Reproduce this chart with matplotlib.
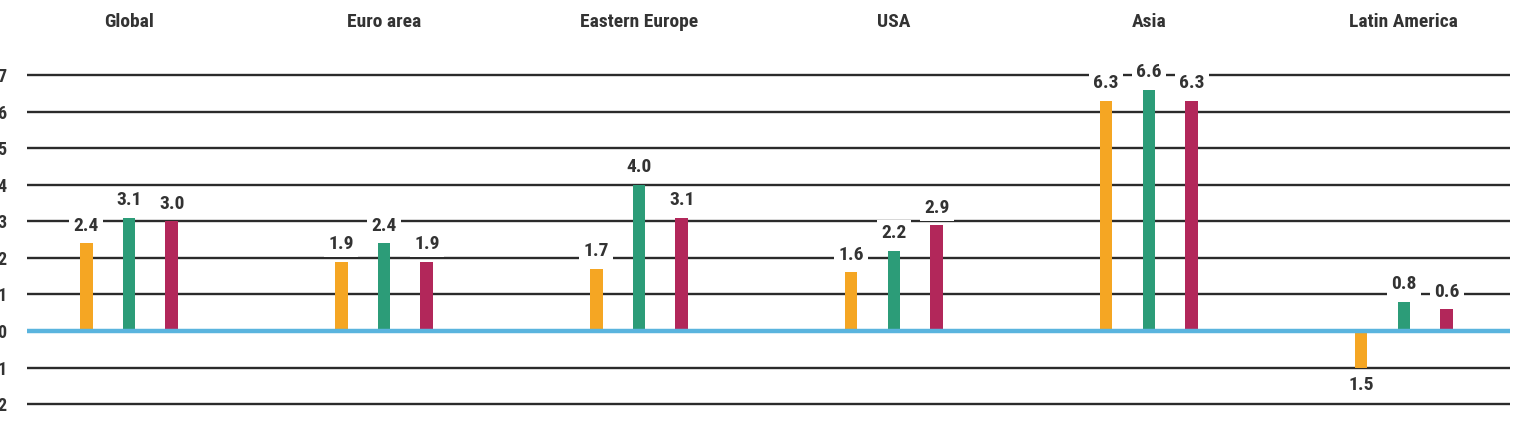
import numpy as np
import matplotlib
matplotlib.use("Agg")
import matplotlib.pyplot as plt

plt.rcParams['font.family'] = ['Liberation Sans Narrow', 'Roboto Condensed', 'DejaVu Sans']

regions = ["Global", "Euro area", "Eastern Europe", "USA", "Asia", "Latin America"]
# bar heights as drawn, and the printed labels
series_a = [2.4, 1.9, 1.7, 1.6, 6.3, -1.0]
series_b = [3.1, 2.4, 4.0, 2.2, 6.6, 0.8]
series_c = [3.0, 1.9, 3.1, 2.9, 6.3, 0.6]
labels_a = ["2.4", "1.9", "1.7", "1.6", "6.3", "1.5"]
labels_b = ["3.1", "2.4", "4.0", "2.2", "6.6", "0.8"]
labels_c = ["3.0", "1.9", "3.1", "2.9", "6.3", "0.6"]
yticks = [-2, -1, 0, 1, 2, 3, 4, 5, 6, 7]
ytick_labels = ["2", "1", "0", "1", "2", "3", "4", "5", "6", "7"]

colors = ["#F5A623", "#2C9C78", "#B2275A"]
grid_col = "#2b2b2b"
zero_col = "#5AB4DE"
txt_col = "#333333"

fig = plt.figure(figsize=(15.28, 4.4), dpi=100)
ax = fig.add_axes([0.0177, 0.040, 0.9705, 0.831])

x = np.arange(len(regions))
off = 0.168
w = 0.05

for y in yticks:
    if y == 0:
        continue
    ax.axhline(y, color=grid_col, lw=1.7, zorder=1)
ax.axhline(0, color=zero_col, lw=3.2, zorder=4)

for vals, labs, col, dx in zip([series_a, series_b, series_c],
                               [labels_a, labels_b, labels_c],
                               colors, [-off, 0, off]):
    ax.bar(x + dx, vals, width=w, color=col, zorder=3)
    for xi, v, lab in zip(x + dx, vals, labs):
        up = v >= 0
        ax.annotate(lab, (xi, v), xytext=(0, 6 if up else -6), textcoords="offset points",
                    ha="center", va="bottom" if up else "top", fontsize=14,
                    fontweight="bold", color=txt_col, zorder=5,
                    bbox=dict(facecolor="white", edgecolor="none", pad=3))

for xi, name in zip(x, regions):
    ax.text(xi, 8.45, name, ha="center", va="center", fontsize=14,
            fontweight="bold", color=txt_col, clip_on=False)

ax.set_xlim(-0.4, 5.416)
ax.set_ylim(-2.5, 7.5)
ax.set_yticks(yticks)
ax.set_yticklabels(ytick_labels, fontsize=13, fontweight="bold", color=txt_col)
ax.tick_params(axis="y", length=0, pad=15)
ax.set_xticks([])
for s in ax.spines.values():
    s.set_visible(False)

fig.savefig("out.png", dpi=100, facecolor="white")
